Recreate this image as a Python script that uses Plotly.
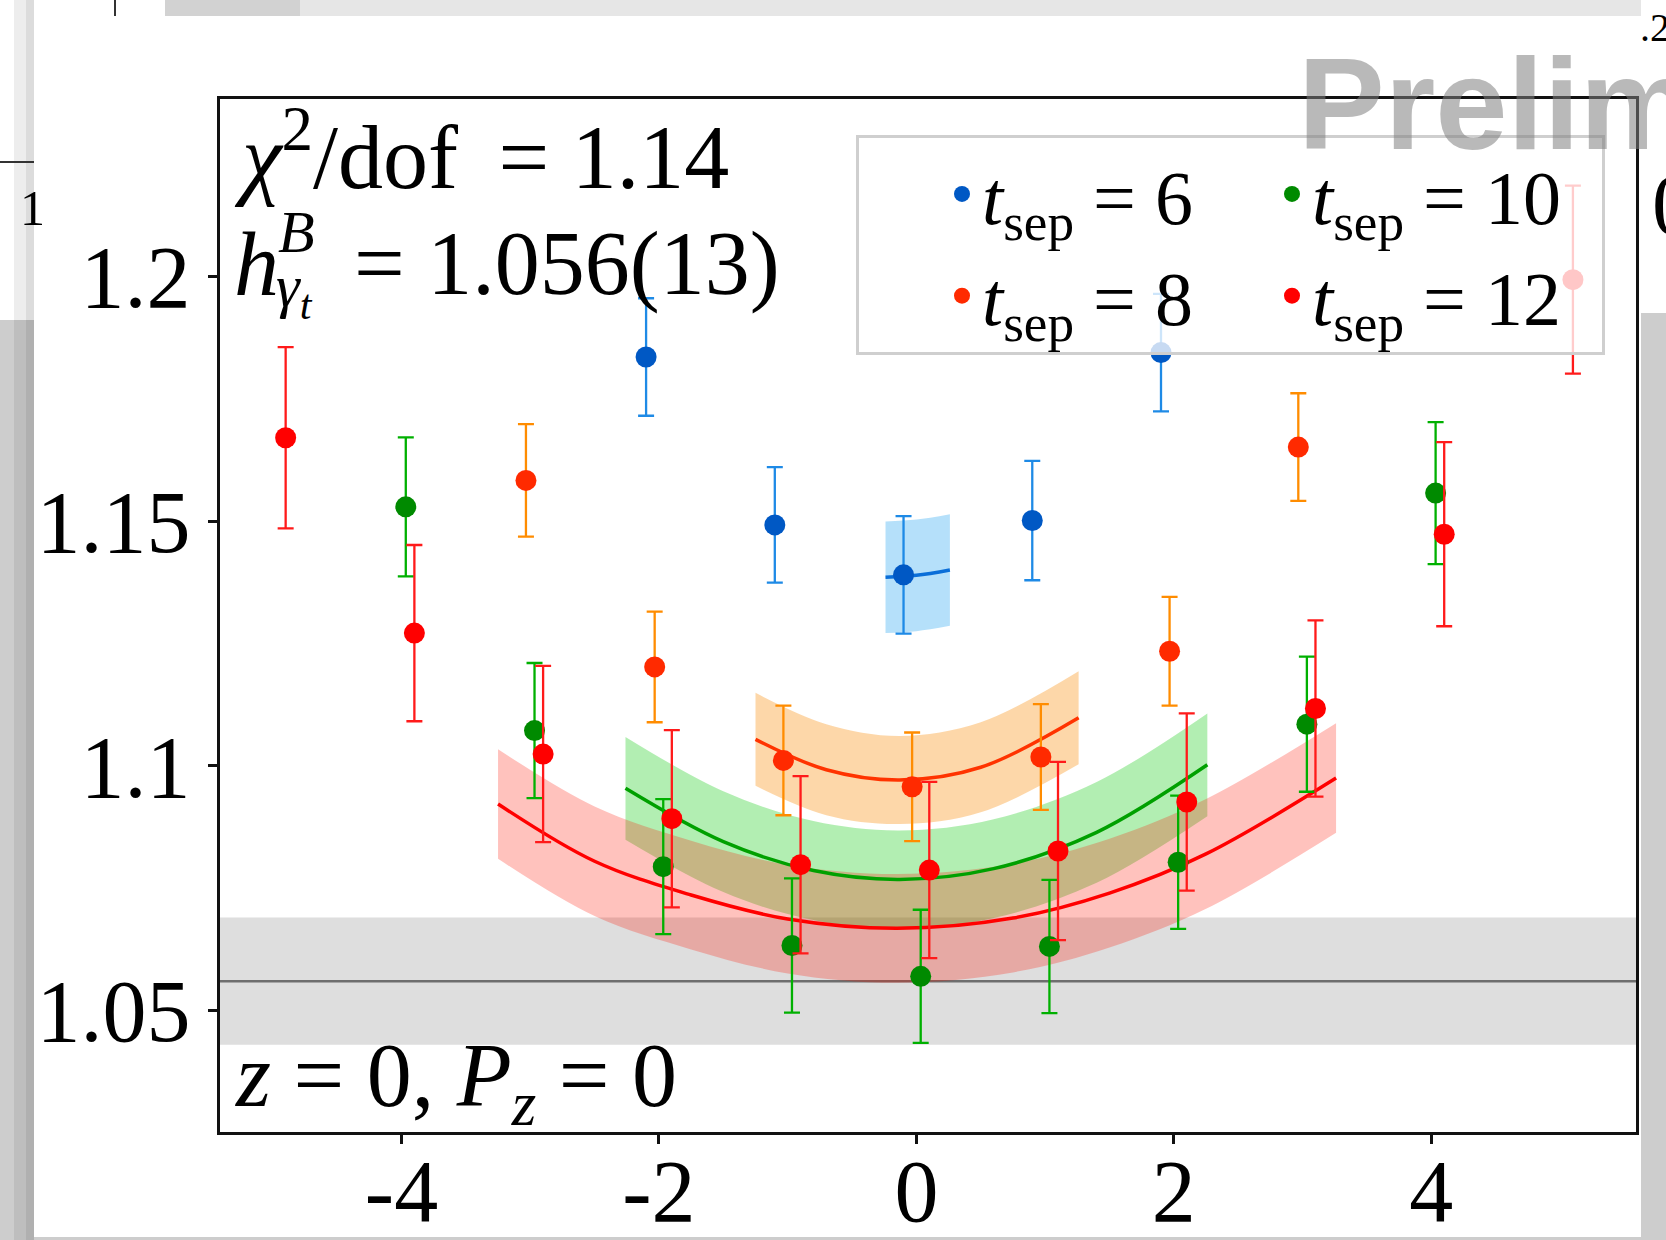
import plotly.graph_objects as go

# ---------------- data ----------------
tau_t6 = [-2, -1, 0, 1, 2]
val_t6 = [1.1835, 1.1492, 1.1390, 1.1501, 1.1844]
err_t6 = [0.0120, 0.0118, 0.0120, 0.0122, 0.0120]

tau_t8 = [-3, -2, -1, 0, 1, 2, 3]
val_t8 = [1.1583, 1.1202, 1.1011, 1.0957, 1.1018, 1.1234, 1.1651]
err_t8 = [0.0115, 0.0113, 0.0112, 0.0111, 0.0108, 0.0111, 0.0110]

tau_t10 = [-4, -3, -2, -1, 0, 1, 2, 3, 4]
val_t10 = [1.1529, 1.1072, 1.0794, 1.0633, 1.0570, 1.0631, 1.0803, 1.1085, 1.1557]
err_t10 = [0.0142, 0.0138, 0.0138, 0.0137, 0.0136, 0.0136, 0.0136, 0.0138, 0.0145]

tau_t12 = [-5, -4, -3, -2, -1, 0, 1, 2, 3, 4, 5]
val_t12 = [1.1670, 1.1271, 1.1024, 1.0892, 1.0798, 1.0787, 1.0826, 1.0926, 1.1117, 1.1473, 1.1993]
err_t12 = [0.0185, 0.0180, 0.0180, 0.0181, 0.0181, 0.0180, 0.0182, 0.0181, 0.0180, 0.0188, 0.0192]

# fitted curves (central value and half-width of the band)
fit_x_t6 = [-0.24, 0.0, 0.26]
fit_y_t6 = [1.1385, 1.1389, 1.1400]
fit_e_t6 = [0.0114, 0.0114, 0.0114]

fit_x_t8 = [-1.25, -0.7, -0.13, 0.5, 1.26]
fit_y_t8 = [1.1054, 1.0992, 1.0971, 1.0997, 1.1098]
fit_e_t8 = [0.0095, 0.0093, 0.0090, 0.0092, 0.0095]

fit_x_t10 = [-2.26, -1.5, -0.8, -0.13, 0.6, 1.4, 2.26]
fit_y_t10 = [1.0954, 1.0845, 1.0786, 1.0768, 1.0790, 1.0864, 1.1002]
fit_e_t10 = [0.0105, 0.0103, 0.0101, 0.0100, 0.0101, 0.0103, 0.0105]

fit_x_t12 = [-3.25, -2.5, -1.75, -1.0, -0.15, 0.75, 1.5, 2.25, 3.26]
fit_y_t12 = [1.0922, 1.0805, 1.0736, 1.0687, 1.0668, 1.0689, 1.0740, 1.0820, 1.0975]
fit_e_t12 = [0.0112, 0.0112, 0.0111, 0.0111, 0.0111, 0.0111, 0.0111, 0.0112, 0.0112]

h_value = 1.056
h_error = 0.013
chi2_dof = "1.14"
h_text = "1.056(13)"

x_ticks = [-4, -2, 0, 2, 4]
x_ticktext = ["-4", "-2", "0", "2", "4"]
y_ticks = [1.05, 1.1, 1.15, 1.2]
y_ticktext = ["1.05", "1.1", "1.15", "1.2"]

# ---------------- styling ----------------
W, H = 1666, 1240
ML, MR, MT, MB = 220, 30, 99, 108
FONT = "Liberation Serif"


def px(X):
    return (X - ML) / (W - ML - MR)


def py(Y):
    return 1 - (Y - MT) / (H - MT - MB)


series = [
    dict(tsep=6, tau=tau_t6, val=val_t6, err=err_t6, shift=-0.1,
         fx=fit_x_t6, fy=fit_y_t6, fe=fit_e_t6,
         mcol="#0058c4", ecol="#1e8ae6", lcol="#0a6ed8",
         band="rgba(30,160,240,0.33)", group="col1"),
    dict(tsep=8, tau=tau_t8, val=val_t8, err=err_t8, shift=-0.0333,
         fx=fit_x_t8, fy=fit_y_t8, fe=fit_e_t8,
         mcol="#ff2a00", ecol="#ff8c00", lcol="#ff3300",
         band="rgba(250,150,30,0.38)", group="col1"),
    dict(tsep=10, tau=tau_t10, val=val_t10, err=err_t10, shift=0.0333,
         fx=fit_x_t10, fy=fit_y_t10, fe=fit_e_t10,
         mcol="#008a00", ecol="#00b000", lcol="#00a000",
         band="rgba(0,200,0,0.30)", group="col2"),
    dict(tsep=12, tau=tau_t12, val=val_t12, err=err_t12, shift=0.1,
         fx=fit_x_t12, fy=fit_y_t12, fe=fit_e_t12,
         mcol="#ff0000", ecol="#ff1a1a", lcol="#ff0000",
         band="rgba(255,20,0,0.26)", group="col2"),
]

fig = go.Figure()

# bands
for s in series:
    lo = [c - e for c, e in zip(s["fy"], s["fe"])]
    hi = [c + e for c, e in zip(s["fy"], s["fe"])]
    fig.add_trace(go.Scatter(x=s["fx"], y=lo, mode="lines",
                             line=dict(width=0, shape="spline"),
                             hoverinfo="skip", showlegend=False))
    fig.add_trace(go.Scatter(x=s["fx"], y=hi, mode="lines",
                             line=dict(width=0, shape="spline"),
                             fill="tonexty", fillcolor=s["band"],
                             hoverinfo="skip", showlegend=False))

# fit lines
for s in series:
    fig.add_trace(go.Scatter(x=s["fx"], y=s["fy"], mode="lines",
                             line=dict(color=s["lcol"], width=3.5, shape="spline"),
                             hoverinfo="skip", showlegend=False))

# data points
for s in series:
    fig.add_trace(go.Scatter(
        x=[t + s["shift"] for t in s["tau"]], y=s["val"], mode="markers",
        marker=dict(size=21, color=s["mcol"]),
        error_y=dict(type="data", array=s["err"], color=s["ecol"],
                     thickness=2.3, width=8),
        name="<i>t</i><sub>sep</sub> = %d" % s["tsep"],
        legendgroup=s["group"]))

shapes = [
    # surrounding screenshot frame
    dict(type="rect", xref="paper", yref="paper", x0=px(0), x1=px(165), y0=py(0), y1=py(320),
         fillcolor="#ffffff", line=dict(width=0), layer="below"),
    dict(type="rect", xref="paper", yref="paper", x0=px(165), x1=px(1641), y0=py(0), y1=py(16),
         fillcolor="#e6e6e6", line=dict(width=0), layer="below"),
    dict(type="rect", xref="paper", yref="paper", x0=px(165), x1=px(300), y0=py(0), y1=py(16),
         fillcolor="#d2d2d2", line=dict(width=0), layer="below"),
    dict(type="rect", xref="paper", yref="paper", x0=px(1641), x1=px(1666), y0=py(0), y1=py(313),
         fillcolor="#ffffff", line=dict(width=0), layer="below"),
    dict(type="rect", xref="paper", yref="paper", x0=px(14), x1=px(34), y0=py(0), y1=py(1240),
         fillcolor="rgba(0,0,0,0.07)", line=dict(width=0), layer="below"),
    dict(type="rect", xref="paper", yref="paper", x0=px(26), x1=px(34), y0=py(0), y1=py(1240),
         fillcolor="rgba(0,0,0,0.07)", line=dict(width=0), layer="below"),
    dict(type="line", xref="paper", yref="paper", x0=px(0), x1=px(34), y0=py(162), y1=py(162),
         line=dict(color="#333333", width=2), layer="below"),
    dict(type="line", xref="paper", yref="paper", x0=px(115), x1=px(115), y0=py(0), y1=py(16),
         line=dict(color="#333333", width=2), layer="below"),
    # white slide panel
    dict(type="rect", xref="paper", yref="paper", x0=px(34), x1=px(1641), y0=py(16), y1=py(1237),
         fillcolor="#ffffff", line=dict(width=0), layer="below"),
    # h^B band and central value
    dict(type="rect", xref="paper", yref="y", x0=0, x1=1,
         y0=h_value - h_error, y1=h_value + h_error,
         fillcolor="#dedede", line=dict(width=0), layer="below"),
    dict(type="line", xref="paper", yref="y", x0=0, x1=1, y0=h_value, y1=h_value,
         line=dict(color="#6e6e6e", width=2.5), layer="below"),
]

TXT = 90
SUB = 60


def f(size, family=FONT, color="black"):
    return dict(size=size, family=family, color=color)


annotations = [
    dict(text="<i>χ</i><sup>2</sup>/dof&#8201; = " + chi2_dof,
         x=px(232), y=py(151), font=f(TXT)),
    dict(text="<i>h</i>", x=px(232), y=py(264), font=f(TXT)),
    dict(text="<i>B</i>", x=px(276), y=py(232), font=f(SUB)),
    dict(text="<i>γ<sub>t</sub></i>", x=px(274), y=py(290), font=f(SUB)),
    dict(text="= " + h_text, x=px(352), y=py(264), font=f(TXT)),
    dict(text="<i>z</i> = 0, <i>P<sub>z</sub></i> = 0", x=px(232), y=py(1082), font=f(TXT)),
    # artefacts of the screenshot around the slide
    dict(text="<b>Preliminary</b>", x=px(1296), y=py(104),
         font=f(130, "Liberation Sans", "rgba(128,128,128,0.55)")),
    dict(text="0", x=px(1650), y=py(205), font=f(86)),
    dict(text=".2", x=px(1638), y=py(28), font=f(40)),
    dict(text="1", x=px(18), y=py(208), font=f(50)),
]
for a in annotations:
    a.update(xref="paper", yref="paper", xanchor="left", yanchor="middle",
             showarrow=False)

axis_common = dict(showline=True, mirror=True, linecolor="#111111", linewidth=3,
                   ticks="outside", ticklen=9, tickwidth=2.5, tickcolor="#111111",
                   showgrid=False, zeroline=False, automargin=False,
                   tickfont=dict(size=88, family=FONT, color="black"))

fig.update_layout(
    width=W, height=H,
    margin=dict(l=ML, r=MR, t=MT, b=MB, autoexpand=False),
    paper_bgcolor="#cdcdcd",
    plot_bgcolor="#ffffff",
    font=dict(family=FONT, color="black"),
    xaxis=dict(range=[-5.41, 5.59], tickvals=x_ticks, ticktext=x_ticktext,
               ticklabelstandoff=-29, **axis_common),
    yaxis=dict(range=[1.0252, 1.2362], tickvals=y_ticks, ticktext=y_ticktext,
               ticklabelstandoff=0, **axis_common),
    shapes=shapes,
    annotations=annotations,
    showlegend=True,
    legend=dict(orientation="h", x=px(856), y=py(135), xanchor="left", yanchor="top",
                traceorder="grouped", entrywidth=285, entrywidthmode="pixels",
                title=dict(text="&nbsp;&nbsp;&nbsp;&nbsp;", side="left",
                           font=dict(size=76, family=FONT)),
                bgcolor="rgba(255,255,255,0.78)", bordercolor="#cfcfcf", borderwidth=3,
                font=dict(size=76, family=FONT, color="black")),
)

fig.write_html("out.html")
